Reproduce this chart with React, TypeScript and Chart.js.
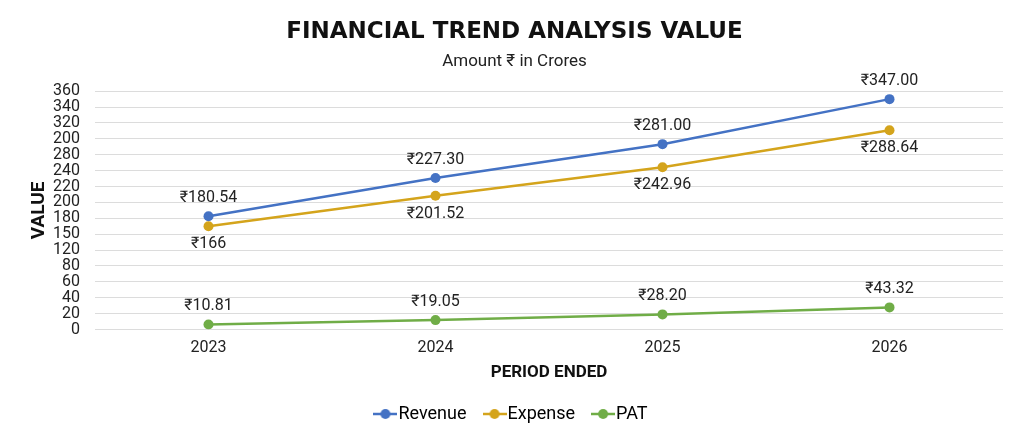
import React, { useEffect, useRef } from 'react';
import { Chart, ChartConfiguration, Plugin, registerables } from 'chart.js';

Chart.register(...registerables);

const years = ['2023', '2024', '2025', '2026'];

// positions of the points as drawn (axis 0..360, one grid step = 24)
const revenue = [171, 229, 280, 348];
const expense = [156, 202, 245, 301];
const pat = [7.6, 14.2, 22.8, 33.4];

// the figures printed next to each point
const revenueLabels = ['₹180.54', '₹227.30', '₹281.00', '₹347.00'];
const expenseLabels = ['₹166', '₹201.52', '₹242.96', '₹288.64'];
const patLabels = ['₹10.81', '₹19.05', '₹28.20', '₹43.32'];

// tick labels exactly as they appear on the value axis, bottom to top
const yTickLabels = ['0', '20', '40', '60', '80', '120', '150', '180', '200', '220', '240', '280', '200', '320', '340', '360'];

const BLUE = '#4472C4';
const GOLD = '#D4A41C';
const GREEN = '#70AD47';
const FONT = "Roboto, 'Noto Sans', 'DejaVu Sans', sans-serif";

const legendMarker = (color: string) => {
  const c = document.createElement('canvas');
  c.width = 24;
  c.height = 12;
  const g = c.getContext('2d')!;
  g.strokeStyle = color;
  g.lineWidth = 2.5;
  g.beginPath();
  g.moveTo(0, 6);
  g.lineTo(24, 6);
  g.stroke();
  g.fillStyle = color;
  g.beginPath();
  g.arc(12, 6, 5, 0, Math.PI * 2);
  g.fill();
  return c;
};

const pointLabels: Plugin<'line'> = {
  id: 'pointLabels',
  afterDatasetsDraw(chart) {
    const ctx = chart.ctx;
    const sets = [
      { texts: revenueLabels, dy: -18 },
      { texts: expenseLabels, dy: 18 },
      { texts: patLabels, dy: -18 },
    ];
    ctx.save();
    ctx.font = `16px ${FONT}`;
    ctx.fillStyle = '#222';
    ctx.textAlign = 'center';
    ctx.textBaseline = 'middle';
    sets.forEach((s, i) => {
      chart.getDatasetMeta(i).data.forEach((pt, j) => {
        ctx.fillText(s.texts[j], pt.x, pt.y + s.dy);
      });
    });
    ctx.restore();
  },
};

const App: React.FC = () => {
  const canvasRef = useRef<HTMLCanvasElement>(null);
  const chartRef = useRef<Chart | null>(null);

  useEffect(() => {
    if (!canvasRef.current) return;
    const ctx = canvasRef.current.getContext('2d');
    if (!ctx) return;

    const markers = [legendMarker(BLUE), legendMarker(GOLD), legendMarker(GREEN)];

    const config: ChartConfiguration<'line'> = {
      type: 'line',
      data: {
        labels: years,
        datasets: [
          { label: 'Revenue', data: revenue, borderColor: BLUE, backgroundColor: BLUE },
          { label: 'Expense', data: expense, borderColor: GOLD, backgroundColor: GOLD },
          { label: 'PAT', data: pat, borderColor: GREEN, backgroundColor: GREEN },
        ].map(d => ({
          ...d,
          borderWidth: 2.5,
          pointRadius: 5,
          pointHoverRadius: 5,
          pointBorderWidth: 0,
          tension: 0,
        })),
      },
      options: {
        responsive: true,
        maintainAspectRatio: false,
        animation: false,
        layout: { padding: { left: 26, right: 21, top: 0, bottom: 1 } },
        scales: {
          x: {
            offset: true,
            afterFit: (s: any) => { s.height = 51.5; },
            grid: { display: false, drawTicks: false },
            border: { display: false },
            ticks: { color: '#222', font: { family: FONT, size: 16 }, padding: 9 },
            title: {
              display: true,
              text: 'PERIOD ENDED',
              color: '#111',
              font: { family: FONT, size: 17, weight: 'bold' },
              padding: { top: 3, bottom: -2 },
            },
          },
          y: {
            min: 0,
            max: 360,
            afterFit: (s: any) => { s.width = 69; },
            afterBuildTicks: (s: any) => {
              s.ticks = yTickLabels.map((_, i) => ({ value: i * 24 }));
            },
            grid: { color: '#dcdcdc', lineWidth: 1, drawTicks: false },
            border: { display: false },
            ticks: {
              color: '#222',
              font: { family: FONT, size: 16 },
              padding: 15,
              autoSkip: false,
              callback: (_v, i) => yTickLabels[i],
            },
            title: {
              display: true,
              text: 'VALUE',
              color: '#111',
              font: { family: FONT, size: 19, weight: 'bold' },
              padding: { top: 1.5, bottom: 0 },
            },
          },
        },
        plugins: {
          title: {
            display: true,
            text: 'FINANCIAL TREND ANALYSIS VALUE',
            color: '#111',
            font: { family: "'DejaVu Sans', sans-serif", size: 23, weight: 'bold' },
            padding: { top: 18.4, bottom: 4 },
          },
          subtitle: {
            display: true,
            text: 'Amount ₹ in Crores',
            color: '#222',
            font: { family: FONT, size: 17 },
            padding: { top: 2, bottom: 18.8 },
          },
          legend: {
            position: 'bottom',
            labels: {
              color: '#222',
              font: { family: FONT, size: 18 },
              usePointStyle: true,
              pointStyleWidth: 8,
              padding: 24,
              generateLabels: (chart) =>
                chart.data.datasets.map((d, i) => ({
                  text: d.label as string,
                  datasetIndex: i,
                  pointStyle: markers[i],
                  fillStyle: d.borderColor as string,
                  strokeStyle: d.borderColor as string,
                  lineWidth: 0,
                  hidden: false,
                })),
            },
          },
          tooltip: { enabled: false },
        },
      },
      plugins: [pointLabels],
    };

    chartRef.current = new Chart(ctx, config);
    return () => {
      chartRef.current?.destroy();
      chartRef.current = null;
    };
  }, []);

  return (
    <div style={{ position: 'fixed', left: 0, top: 0, width: 1024, height: 434, background: '#fff' }}>
      <canvas ref={canvasRef} />
    </div>
  );
};

export default App;
